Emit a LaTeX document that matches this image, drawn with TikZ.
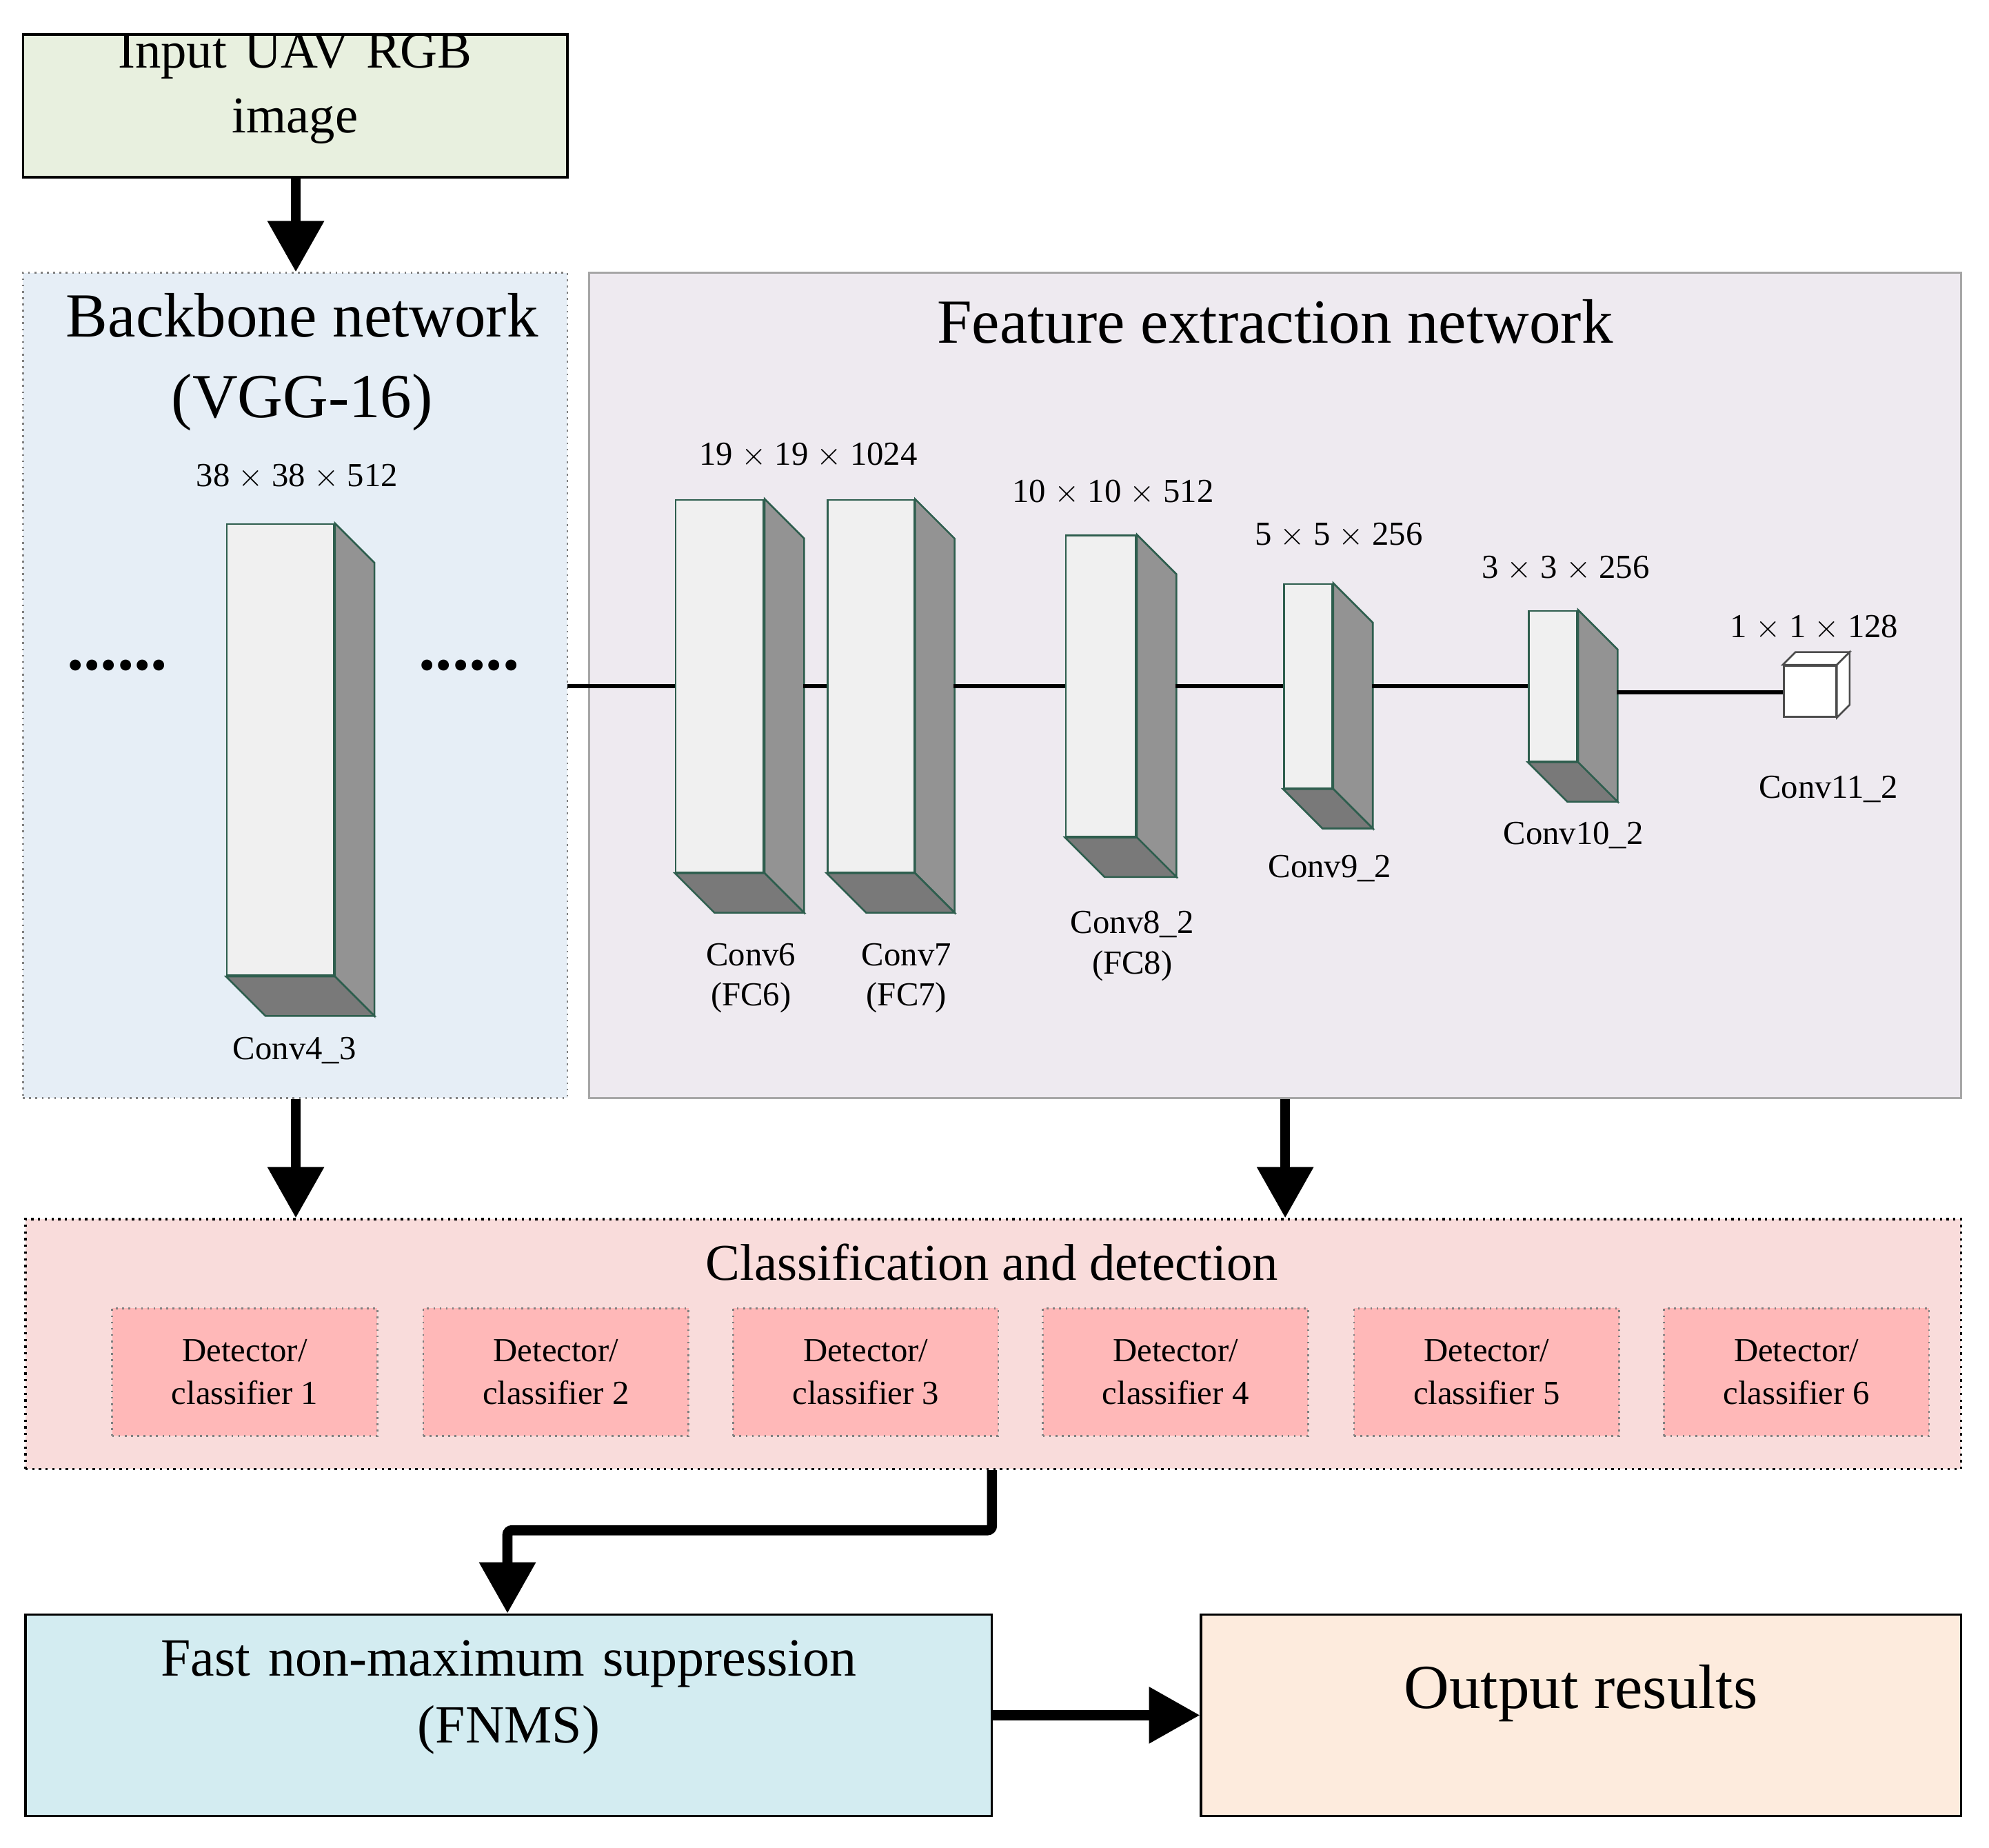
\documentclass[tikz,border=0pt]{standalone}
\usepackage{fontspec}
\setmainfont{Liberation Serif}
\usetikzlibrary{fit,calc,arrows.meta}
\definecolor{edg}{HTML}{2E5E4E}
\tikzset{
 box/.style={draw=black, line width=1pt, inner sep=0pt},
 fat/.style={line width=4.5pt, -{Triangle[length=0.8cm,width=0.85cm]}},
 front/.style={draw=edg, fill=gray!12, line width=0.8pt, inner sep=0pt},
 side/.style={draw=edg, fill=gray!85, line width=0.8pt},
 bot/.style={draw=edg, fill=gray!95!black, line width=0.8pt},
 lbl/.style={font=\fontsize{15}{18}\selectfont, align=center},
 dim/.style={font=\fontsize{15}{18}\selectfont},
 det/.style={draw=gray, dotted, fill=red!28!white, line width=0.8pt, inner sep=0pt, align=center, font=\fontsize{15}{19}\selectfont},
 conn/.style={line width=1.8pt}
}
\newcommand\mycub[5]{%
 \node[front, fit={(#2,#3)(#4,#5)}] (#1) {};
 \filldraw[side] (#1.north east) -- ++(31,31) -- ($(#1.south east)+(31,31)$) -- (#1.south east) -- cycle;
 \filldraw[bot] (#1.south west) -- (#1.south east) -- ($(#1.south east)+(31,31)$) -- ($(#1.south west)+(31,31)$) -- cycle;}
\begin{document}
\begin{tikzpicture}[x=0.02cm,y=-0.02cm]
\useasboundingbox (0,0) rectangle (1560,1449);
% boxes
\node[box, fill={rgb,255:red,232;green,240;blue,223}, fit={(18,27)(445,139)}, align=center, font=\fontsize{23}{29}\selectfont] (in) {Input UAV RGB\\image};
\node[draw=gray, dotted, line width=0.8pt, inner sep=0pt, fill={rgb,255:red,230;green,238;blue,246}, fit={(18,214)(445,861)}] (bb) {};
\node[draw=gray!70, line width=0.8pt, inner sep=0pt, fill={rgb,255:red,238;green,234;blue,240}, fit={(462,214)(1538,861)}] (fe) {};
\node[align=center, font=\fontsize{28}{36}\selectfont] (bbt) at (237,284) {Backbone network\\(VGG-16)};
\node[font=\fontsize{28}{34}\selectfont] (fet) at (1000,252) {Feature extraction network};
\draw[fat] (in.south -| 232,0) -- (bb.north -| 232,0);
% cuboids
\mycub{c4}{178}{411}{262}{765}
\mycub{c6}{530}{392}{599}{684}
\mycub{c7}{649}{392}{717}{684}
\mycub{c8}{836}{420}{891}{656}
\mycub{c9}{1007}{458}{1045}{618}
\mycub{c10}{1199}{479}{1237}{597}
\node[draw=black!70, fill=white, line width=0.8pt, inner sep=0pt, fit={(1399,522)(1440,562)}] (c11) {};
\filldraw[draw=black!70, fill=white, line width=0.8pt] (c11.north west) -- ++(10,-10) -- ($(c11.north east)+(10,-10)$) -- (c11.north east) -- cycle;
\filldraw[draw=black!70, fill=white, line width=0.8pt] (c11.north east) -- ++(10,-10) -- ($(c11.south east)+(10,-10)$) -- (c11.south east) -- cycle;
% dots
\node[font=\fontsize{30}{30}\selectfont\bfseries] (d1) at (92,522) {......};
\node[font=\fontsize{30}{30}\selectfont\bfseries] (d2) at (368,522) {......};
% connectors
\coordinate (l0) at (445,538);
\draw[conn] (l0) -- (l0 -| c6.west);
\draw[conn] (630,538) -- (c7.west |- 0,538);
\draw[conn] (748,538) -- (c8.west |- 0,538);
\draw[conn] (922,538) -- (c9.west |- 0,538);
\draw[conn] (1076,538) -- (c10.west |- 0,538);
\draw[conn] (1268,543) -- (c11.west |- 0,543);
% dims
\node[dim] at (233,374) {38 $\times$ 38 $\times$ 512};
\node[dim] at (634,357) {19 $\times$ 19 $\times$ 1024};
\node[dim] at (873,386) {10 $\times$ 10 $\times$ 512};
\node[dim] at (1050,420) {5 $\times$ 5 $\times$ 256};
\node[dim] at (1228,446) {3 $\times$ 3 $\times$ 256};
\node[dim] at (1423,492) {1 $\times$ 1 $\times$ 128};
\node[lbl] at (231,824) {Conv4\_3};
\node[lbl] at (589,767) {Conv6\\(FC6)};
\node[lbl] at (711,767) {Conv7\\(FC7)};
\node[lbl] at (888,742) {Conv8\_2\\(FC8)};
\node[lbl] at (1043,681) {Conv9\_2};
\node[lbl] at (1234,655) {Conv10\_2};
\node[lbl] at (1434,619) {Conv11\_2};
% classification
\node[draw=black, dotted, line width=1pt, inner sep=0pt, fill={rgb,255:red,249;green,220;blue,219}, fit={(20,956)(1538,1152)}] (cd) {};
\node[font=\fontsize{23}{28}\selectfont] (cdt) at (778,990) {Classification and detection};
\draw[fat] (bb.south -| 232,0) -- (cd.north -| 232,0);
\draw[fat] (fe.south -| 1008,0) -- (cd.north -| 1008,0);
\foreach \i/\x in {1/88,2/332,3/575,4/818,5/1062,6/1305}{
 \node[det, fit={(\x,1026)(\x+208,1126)}] (dc\i) {};
 \node[det, draw=none, fill=none] at (dc\i) {Detector/\\classifier \i};
}
% bottom
\node[box, fill={rgb,255:red,211;green,236;blue,241}, fit={(20,1266)(778,1424)}, align=center, font=\fontsize{24}{30}\selectfont] (fn) {Fast non-maximum suppression\\(FNMS)};
\node[box, fill={rgb,255:red,253;green,235;blue,221}, fit={(942,1266)(1538,1424)}, font=\fontsize{28}{34}\selectfont] (out) {Output results};
\draw[fat, rounded corners=2pt] (cd.south -| 778,0) -- (778,1200) -- (398,1200) -- (fn.north -| 398,0);
\draw[fat] (fn.east |- 0,1345) -- (out.west |- 0,1345);
\end{tikzpicture}
\end{document}
